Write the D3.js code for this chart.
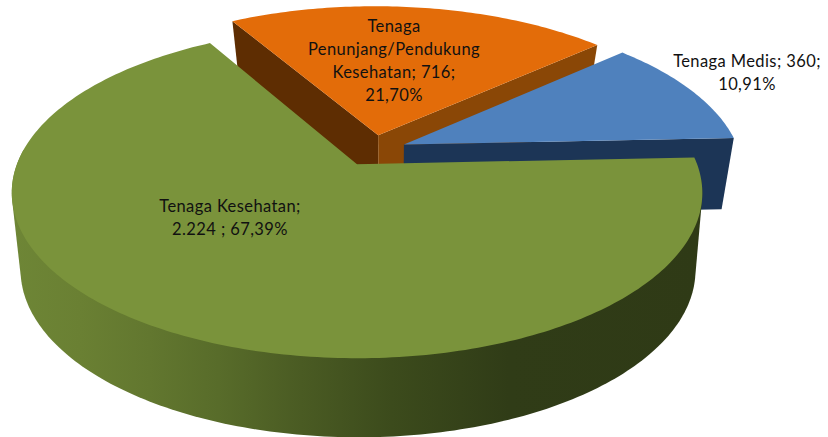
<!DOCTYPE html>
<html>
<head>
<meta charset="utf-8">
<style>
html,body{margin:0;padding:0;background:#fff;}
svg{display:block;}
text{font-family:Lato,"Open Sans",sans-serif;fill:#111;}
</style>
<script src="https://cdn.jsdelivr.net/npm/d3@7/dist/d3.min.js"></script>
</head>
<body>
<svg id="c" width="828" height="437"></svg>
<script>
// Data (in pie order, clockwise)
const categories = ["Tenaga Medis", "Tenaga Kesehatan", "Tenaga Penunjang/Pendukung Kesehatan"];
const values = [360, 2224, 716];
const labelLines = [
  ["Tenaga Medis; 360;", "10,91%"],
  ["Tenaga Kesehatan;", "2.224 ; 67,39%"],
  ["Tenaga", "Penunjang/Pendukung", "Kesehatan; 716;", "21,70%"]
];
const topColors = ["#4f81bd", "#7a933b", "#e36c09"];

// Scene geometry
const W = 828, H = 437;
const startDeg = 48.3;
const centre = {u: 0.0513, v: -0.0865}, explode = 0.1;
const planeTop = {x: 356, y: 164, a: 160.4, b: 340, k: 0.173};
const planeBot = {x: 357, y: 235, a: 160, b: 330, k: 0.208};
const labelAnchors = [[747, 67], [230, 212], [394, 32]];
const labelSize = 16.5, labelLead = 23;

const svg = d3.select("#c");
const defs = svg.append("defs");
const grad = defs.append("linearGradient").attr("id", "greenWall")
  .attr("gradientUnits", "userSpaceOnUse").attr("x1", 11).attr("x2", 702).attr("y1", 0).attr("y2", 0);
[[0, "#6e8636"], [0.1, "#6a8033"], [0.2, "#62772f"], [0.3, "#586c2a"], [0.42, "#4a5b23"], [0.55, "#3c4b1c"], [0.72, "#303c17"], [1, "#2f3a16"]]
  .forEach(s => grad.append("stop").attr("offset", s[0]).attr("stop-color", s[1]));

const project = (p, u, v) => {
  const w = 1 - p.k * v;
  return [p.x + p.b * u / w, p.y + p.a * v / w];
};
const line = d3.line();

const pie = d3.pie().sort(null).startAngle(startDeg * Math.PI / 180).endAngle((startDeg + 360) * Math.PI / 180);
const arcs = pie(values).map((d, i) => {
  const mid = (d.startAngle + d.endAngle) / 2;
  return {
    i, a0: d.startAngle, a1: d.endAngle,
    cu: centre.u + explode * Math.sin(mid),
    cv: centre.v - explode * Math.cos(mid)
  };
});
const pts = (s, plane, a0, a1) => {
  const n = Math.max(2, Math.ceil((a1 - a0) * 60));
  return d3.range(n + 1).map(j => {
    const a = a0 + (a1 - a0) * j / n;
    return project(plane, s.cu + Math.sin(a), s.cv - Math.cos(a));
  });
};
const apex = (s, plane) => project(plane, s.cu, s.cv);
const rim = (s, plane, a) => project(plane, s.cu + Math.sin(a), s.cv - Math.cos(a));
const radialWall = (s, a) => line([apex(s, planeTop), rim(s, planeTop, a), rim(s, planeBot, a), apex(s, planeBot)]) + "Z";

const [blue, green, orange] = arcs;

// Orange (back)
svg.append("path").attr("d", radialWall(orange, orange.a0)).attr("fill", "#5e2d02");
svg.append("path").attr("d", radialWall(orange, orange.a1)).attr("fill", "#8a4706");
svg.append("path").attr("d", line([apex(orange, planeTop)].concat(pts(orange, planeTop, orange.a0, orange.a1))) + "Z").attr("fill", topColors[2]);

// Blue
svg.append("path").attr("d", radialWall(blue, blue.a1)).attr("fill", "#1c3556");
svg.append("path").attr("d", line([apex(blue, planeTop)].concat(pts(blue, planeTop, blue.a0, blue.a1))) + "Z").attr("fill", topColors[0]);

// Green (front): outer wall is the hull of the front half of both rims
const wallA0 = Math.PI / 2 + 0.09, wallA1 = wallA0 + Math.PI;
const wallHull = d3.polygonHull(pts(green, planeTop, wallA0, wallA1).concat(pts(green, planeBot, wallA0, wallA1)));
svg.append("path").attr("d", line(wallHull) + "Z").attr("fill", "url(#greenWall)");
svg.append("path").attr("d", line([apex(green, planeTop)].concat(pts(green, planeTop, green.a0, green.a1))) + "Z").attr("fill", topColors[1]);

// Labels
labelLines.forEach((lines, i) => {
  const t = svg.append("text").attr("text-anchor", "middle").attr("font-size", labelSize).attr("letter-spacing", 0.4);
  lines.forEach((s, j) => {
    t.append("tspan").attr("x", labelAnchors[i][0]).attr("y", labelAnchors[i][1] + j * labelLead).text(s);
  });
});
</script>
</body>
</html>
